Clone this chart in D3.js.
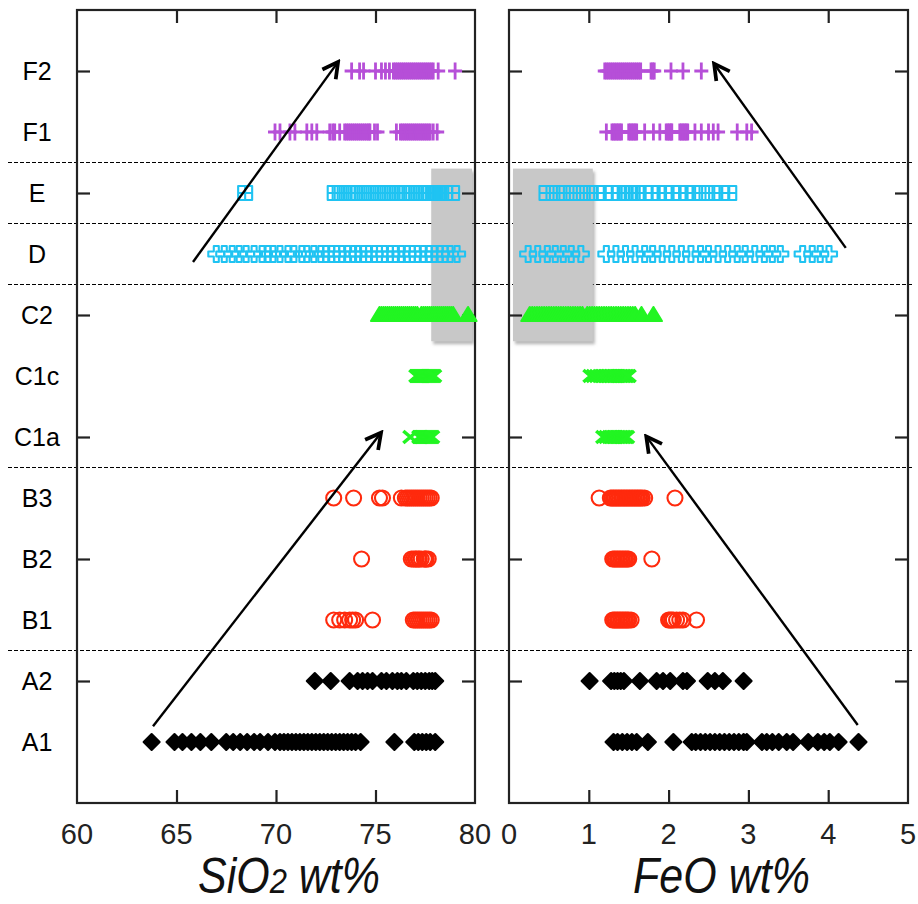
<!DOCTYPE html>
<html>
<head>
<meta charset="utf-8">
<script src="https://cdn.jsdelivr.net/npm/d3@7"></script>
<style>
  body { margin: 0; background: #fff; }
  text { font-family: "Liberation Sans", Arial, sans-serif; }
</style>
</head>
<body>
<div id="chart"></div>
<script>
// row categories, bottom to top
var rows = ["A1", "A2", "B1", "B2", "B3", "C1a", "C1c", "C2", "D", "E", "F1", "F2"];
var tickRows = ["A2", "B2", "C1a", "C2", "E", "F2"];
var groupBreaks = [1.5, 4.5, 7.5, 8.5, 9.5];   // dashed lines between groups (row index units)
var sio2Ticks = [60, 65, 70, 75, 80];
var feoTicks = [0, 1, 2, 3, 4, 5];

// SiO2 wt% values per row
var sio2_F2 = [73.8, 74.2, 74.4, 75.0, 75.3, 75.5, 75.7, 75.9, 76.0, 76.1, 76.2, 76.3, 76.4, 76.5, 76.6, 76.7, 76.8, 76.9, 77.0, 77.1, 77.2, 77.3, 77.4, 77.5, 77.6, 77.7, 77.8, 77.9, 78.15, 79.0];
var sio2_F1 = [69.95, 70.2, 70.7, 70.95, 71.55, 71.8, 72.05, 72.7, 72.85, 72.95, 73.2, 73.45, 73.55, 73.65, 73.75, 73.85, 73.95, 74.05, 74.15, 74.25, 74.35, 74.45, 74.55, 74.65, 74.72, 74.95, 75.1, 76.05, 76.25, 76.35, 76.45, 76.55, 76.65, 76.75, 76.85, 76.95, 77.05, 77.15, 77.25, 77.35, 77.45, 77.55, 77.65, 77.75, 77.9, 78.1];
var sio2_E = [68.45, 72.95, 73.2, 73.45, 73.75, 74.0, 74.3, 74.55, 74.8, 75.1, 75.35, 75.6, 75.85, 76.1, 76.35, 76.55, 76.8, 77.05, 77.3, 77.55, 77.75, 77.9, 78.0, 78.1, 78.2, 78.3, 78.5, 78.85];
var sio2_D = [67.0, 67.4, 67.8, 68.15, 68.5, 68.9, 69.3, 69.6, 69.85, 70.2, 70.6, 70.9, 71.3, 71.55, 71.9, 72.25, 72.5, 72.8, 73.05, 73.3, 73.6, 73.9, 74.1, 74.4, 74.65, 74.95, 75.2, 75.45, 75.75, 76.0, 76.3, 76.6, 76.85, 77.1, 77.4, 77.7, 77.95, 78.25, 78.5, 78.75, 79.1];
var sio2_C2 = [75.2, 75.3, 75.4, 75.5, 75.6, 75.7, 75.8, 75.9, 76.0, 76.1, 76.2, 76.3, 76.4, 76.5, 76.6, 76.7, 76.8, 76.9, 77.0, 77.1, 77.3, 77.4, 77.5, 77.6, 77.7, 77.8, 77.9, 78.0, 78.1, 78.2, 78.3, 78.4, 78.5, 78.6, 78.7, 78.8, 78.9, 79.65];
var sio2_C1c = [77.05, 77.1, 77.15, 77.2, 77.25, 77.3, 77.35, 77.4, 77.45, 77.5, 77.55, 77.6, 77.65, 77.7, 77.75, 77.8, 77.85, 77.9, 77.95];
var sio2_C1a = [76.75, 77.2, 77.25, 77.3, 77.35, 77.4, 77.45, 77.5, 77.55, 77.6, 77.65, 77.7, 77.75, 77.8, 77.85];
var sio2_B3 = [72.9, 73.9, 75.2, 75.35, 76.3, 76.5, 76.6, 76.7, 76.8, 76.9, 77.0, 77.1, 77.2, 77.3, 77.4, 77.5, 77.6, 77.7, 77.8];
var sio2_B2 = [74.3, 76.8, 76.9, 77.0, 77.05, 77.15, 77.2, 77.3, 77.45, 77.5, 77.55, 77.65];
var sio2_B1 = [72.9, 73.2, 73.45, 73.7, 73.85, 74.0, 74.85, 76.9, 77.0, 77.1, 77.2, 77.3, 77.4, 77.5, 77.6, 77.7, 77.8];
var sio2_A2 = [71.95, 72.75, 73.7, 74.1, 74.35, 74.6, 74.85, 75.3, 75.55, 75.85, 76.1, 76.3, 76.55, 76.9, 77.1, 77.3, 77.5, 77.7, 77.85, 78.0];
var sio2_A1 = [63.75, 64.9, 65.3, 65.75, 66.2, 66.75, 67.5, 67.85, 68.2, 68.55, 68.9, 69.2, 69.6, 69.95, 70.2, 70.4, 70.6, 70.8, 71.0, 71.2, 71.4, 71.6, 71.8, 72.0, 72.2, 72.4, 72.6, 72.8, 73.0, 73.2, 73.4, 73.6, 73.8, 74.0, 74.25, 75.95, 76.95, 77.15, 77.35, 77.55, 77.75, 78.0];

// FeO wt% values per row
var feo_F2 = [1.2, 1.225, 1.25, 1.275, 1.3, 1.325, 1.35, 1.375, 1.4, 1.425, 1.45, 1.475, 1.5, 1.525, 1.55, 1.575, 1.6, 1.625, 1.65, 1.78, 1.8, 1.82, 2.03, 2.18, 2.41];
var feo_F1 = [1.22, 1.29, 1.31, 1.33, 1.35, 1.37, 1.39, 1.41, 1.5, 1.52, 1.54, 1.56, 1.58, 1.6, 1.7, 1.81, 1.89, 1.97, 1.99, 2.01, 2.03, 2.04, 2.14, 2.16, 2.18, 2.2, 2.22, 2.24, 2.33, 2.41, 2.5, 2.56, 2.62, 2.86, 2.98, 3.04];
var feo_E = [0.47, 0.6, 0.72, 0.85, 0.98, 1.1, 1.2, 1.3, 1.38, 1.45, 1.5, 1.55, 1.6, 1.7, 1.8, 1.88, 1.95, 2.05, 2.15, 2.22, 2.3, 2.42, 2.55, 2.66, 2.76];
var feo_D = [0.24, 0.36, 0.48, 0.58, 0.68, 0.78, 0.9, 1.22, 1.34, 1.46, 1.58, 1.7, 1.8, 1.92, 2.04, 2.16, 2.28, 2.4, 2.5, 2.62, 2.74, 2.86, 2.96, 3.08, 3.2, 3.3, 3.4, 3.68, 3.8, 3.9, 4.01];
var feo_C2 = [0.26, 0.29, 0.32, 0.35, 0.38, 0.41, 0.44, 0.47, 0.5, 0.53, 0.56, 0.59, 0.62, 0.65, 0.68, 0.71, 0.74, 0.77, 0.8, 0.83, 0.86, 0.89, 0.92, 0.98, 1.01, 1.04, 1.07, 1.1, 1.13, 1.16, 1.19, 1.22, 1.25, 1.28, 1.31, 1.34, 1.37, 1.4, 1.43, 1.46, 1.49, 1.52, 1.55, 1.58, 1.66, 1.81];
var feo_C1c = [1.02, 1.06, 1.1, 1.14, 1.18, 1.22, 1.24, 1.26, 1.28, 1.3, 1.32, 1.34, 1.36, 1.38, 1.4, 1.42, 1.44, 1.46, 1.48, 1.5];
var feo_C1a = [1.18, 1.22, 1.26, 1.28, 1.3, 1.32, 1.34, 1.36, 1.38, 1.4, 1.42, 1.44, 1.46, 1.48];
var feo_B3 = [1.13, 1.27, 1.29, 1.31, 1.33, 1.35, 1.37, 1.39, 1.41, 1.43, 1.45, 1.47, 1.49, 1.51, 1.53, 1.55, 1.57, 1.59, 1.61, 1.63, 1.65, 1.67, 1.7, 2.08];
var feo_B2 = [1.3, 1.32, 1.34, 1.36, 1.38, 1.4, 1.42, 1.44, 1.46, 1.48, 1.5, 1.79];
var feo_B1 = [1.3, 1.32, 1.34, 1.36, 1.38, 1.4, 1.42, 1.44, 1.46, 1.48, 1.5, 1.53, 2.0, 2.02, 2.04, 2.06, 2.1, 2.14, 2.18, 2.35];
var feo_A2 = [1.01, 1.28, 1.32, 1.36, 1.4, 1.44, 1.64, 1.85, 1.93, 2.02, 2.18, 2.23, 2.49, 2.58, 2.68, 2.94];
var feo_A1 = [1.31, 1.36, 1.42, 1.48, 1.54, 1.6, 1.74, 2.06, 2.29, 2.34, 2.4, 2.46, 2.52, 2.58, 2.64, 2.7, 2.76, 2.82, 2.88, 2.94, 2.98, 3.17, 3.23, 3.3, 3.38, 3.48, 3.56, 3.75, 3.87, 3.95, 4.02, 4.13, 4.38];

// grey highlight boxes [x0, x1, row0, row1]
var sio2Box = [77.8, 79.85, 6.57, 9.4];
var feoBox = [0.05, 1.05, 6.57, 9.4];

// trend arrows [xFrom, rowFrom, xTo, rowTo]
var sio2Arrows = [[63.82, 0.26, 75.28, 5.07], [65.83, 7.87, 73.12, 11.15]];
var feoArrows = [[4.37, 0.28, 1.72, 5.01], [4.22, 8.1, 2.57, 11.12]];

var sio2Data = {F2: sio2_F2, F1: sio2_F1, E: sio2_E, D: sio2_D, C2: sio2_C2, C1c: sio2_C1c, C1a: sio2_C1a, B3: sio2_B3, B2: sio2_B2, B1: sio2_B1, A2: sio2_A2, A1: sio2_A1};
var feoData = {F2: feo_F2, F1: feo_F1, E: feo_E, D: feo_D, C2: feo_C2, C1c: feo_C1c, C1a: feo_C1a, B3: feo_B3, B2: feo_B2, B1: feo_B1, A2: feo_A2, A1: feo_A1};

// marker style for each row
var rowStyle = {
  F2: {shape: "plus", color: "#b64fd8"},
  F1: {shape: "plus", color: "#b64fd8"},
  E: {shape: "box", color: "#1fc3f2"},
  D: {shape: "cross", color: "#1fc3f2"},
  C2: {shape: "triangle", color: "#22f522"},
  C1c: {shape: "x", color: "#22f522"},
  C1a: {shape: "x", color: "#22f522"},
  B3: {shape: "circle", color: "#ff2a0d"},
  B2: {shape: "circle", color: "#ff2a0d"},
  B1: {shape: "circle", color: "#ff2a0d"},
  A2: {shape: "diamond", color: "#000"},
  A1: {shape: "diamond", color: "#000"}
};

var width = 918, height = 904;

var svg = d3.select("#chart")
  .append("svg")
    .attr("width", width)
    .attr("height", height);

var defs = svg.append("defs");
defs.append("marker")
    .attr("id", "arrowhead")
    .attr("viewBox", "0 0 20 20")
    .attr("refX", 17)
    .attr("refY", 10)
    .attr("markerWidth", 22)
    .attr("markerHeight", 22)
    .attr("markerUnits", "userSpaceOnUse")
    .attr("orient", "auto")
  .append("path")
    .attr("d", "M3,2.5 L17,10 L3,17.5")
    .attr("fill", "none")
    .attr("stroke", "#000")
    .attr("stroke-width", 3.4);
var shadow = defs.append("filter").attr("id", "shadow")
    .attr("x", "-10%").attr("y", "-10%").attr("width", "130%").attr("height", "130%");
shadow.append("feDropShadow")
    .attr("dx", 2).attr("dy", 3).attr("stdDeviation", 1.5)
    .attr("flood-color", "#888").attr("flood-opacity", 0.6);

var y = d3.scaleLinear().domain([-1, 12]).range([803, 10]);

// dashed group separators across the whole figure
svg.selectAll(".sep")
  .data(groupBreaks)
  .enter()
  .append("line")
    .attr("x1", 8).attr("x2", 912)
    .attr("y1", function(d) { return y(d); })
    .attr("y2", function(d) { return y(d); })
    .attr("stroke", "#000")
    .attr("stroke-width", 1)
    .attr("stroke-dasharray", "4,2");

// row labels
svg.selectAll(".rowlab")
  .data(rows)
  .enter()
  .append("text")
    .attr("x", 37)
    .attr("y", function(d, i) { return y(i); })
    .attr("dy", "0.36em")
    .attr("text-anchor", "middle")
    .style("font-size", "25px")
    .style("fill", "#000")
    .text(function(d) { return d; });

function markerPath(shape) {
  switch (shape) {
    case "plus": return "M-7,0H7M0,-8.5V8.5";
    case "box": return "M-7,-7H7V7H-7ZM0,-7V7M-7,0H7";
    case "cross": return "M-2.5,-8H2.5V-2.5H8V2.5H2.5V8H-2.5V2.5H-8V-2.5H-2.5Z";
    case "triangle": return "M0,-8L8.5,6H-8.5Z";
    case "x": return "M-7,-6L7,6M-7,6L7,-6";
    case "circle": return "M7.5,0A7.5,7.5 0 1,1 -7.5,0A7.5,7.5 0 1,1 7.5,0Z";
    case "diamond": return "M0,-8L8,0L0,8L-8,0Z";
  }
}

function drawPanel(x0, x1, domain, ticks, data, box, arrows, title, sub, rest) {
  var x = d3.scaleLinear().domain(domain).range([x0, x1]);
  var g = svg.append("g");

  // grey highlight
  g.append("rect")
      .attr("x", x(box[0]))
      .attr("y", y(box[3]))
      .attr("width", x(box[1]) - x(box[0]))
      .attr("height", y(box[2]) - y(box[3]))
      .attr("fill", "#c8c8c8")
      .attr("filter", "url(#shadow)");

  // frame
  g.append("rect")
      .attr("x", x0).attr("y", y(12))
      .attr("width", x1 - x0).attr("height", y(-1) - y(12))
      .attr("fill", "none")
      .attr("stroke", "#222")
      .attr("stroke-width", 2.2);

  var inner = ticks.slice(1, ticks.length - 1);
  g.append("g")
      .attr("transform", "translate(0," + y(-1) + ")")
      .call(d3.axisBottom(x).tickValues(inner).tickSizeInner(-13).tickSizeOuter(0).tickFormat(""));
  g.append("g")
      .attr("transform", "translate(0," + y(12) + ")")
      .call(d3.axisTop(x).tickValues(inner).tickSizeInner(-13).tickSizeOuter(0).tickFormat(""));
  var tickIdx = tickRows.map(function(r) { return rows.indexOf(r); });
  g.append("g")
      .attr("transform", "translate(" + x0 + ",0)")
      .call(d3.axisLeft(y).tickValues(tickIdx).tickSizeInner(-13).tickSizeOuter(0).tickFormat(""));
  g.append("g")
      .attr("transform", "translate(" + x1 + ",0)")
      .call(d3.axisRight(y).tickValues(tickIdx).tickSizeInner(-13).tickSizeOuter(0).tickFormat(""));
  g.selectAll(".domain").remove();
  g.selectAll(".tick line").attr("stroke", "#222").attr("stroke-width", 2.2);

  // tick labels
  g.selectAll(".ticklab")
    .data(ticks)
    .enter()
    .append("text")
      .attr("x", function(d) { return x(d); })
      .attr("y", 844)
      .attr("text-anchor", "middle")
      .style("font-size", "29px")
      .style("fill", "#222")
      .text(function(d) { return d; });

  // markers
  rows.forEach(function(r, i) {
    var st = rowStyle[r];
    var filled = (st.shape === "diamond" || st.shape === "triangle");
    g.selectAll(".m" + r)
      .data(data[r])
      .enter()
      .append("path")
        .attr("transform", function(d) { return "translate(" + x(d) + "," + y(i) + ")"; })
        .attr("d", markerPath(st.shape))
        .attr("fill", filled ? st.color : "none")
        .attr("stroke", st.color)
        .attr("stroke-width", st.shape === "x" ? 3.6 : (st.shape === "plus" ? 2.8 : 2.1))
        .attr("stroke-linejoin", "round");
  });

  // arrows
  g.selectAll(".arrow")
    .data(arrows)
    .enter()
    .append("line")
      .attr("x1", function(d) { return x(d[0]); })
      .attr("y1", function(d) { return y(d[1]); })
      .attr("x2", function(d) { return x(d[2]); })
      .attr("y2", function(d) { return y(d[3]); })
      .attr("stroke", "#000")
      .attr("stroke-width", 2.4)
      .attr("marker-end", "url(#arrowhead)");

  // axis title (condensed italic)
  var cx = (x0 + x1) / 2 + 13;
  var t = g.append("text")
      .attr("transform", "translate(" + cx + ",893) scale(0.86,1)")
      .attr("text-anchor", "middle")
      .style("font-size", "50px")
      .style("font-style", "italic")
      .style("fill", "#111")
      .text(title);
  if (sub) {
    t.append("tspan").style("font-size", "36px").text(sub);
  }
  t.append("tspan").text(rest);
}

drawPanel(77, 475, [60, 80], sio2Ticks, sio2Data, sio2Box, sio2Arrows, "SiO", "2", " wt%");
drawPanel(509, 908, [0, 5], feoTicks, feoData, feoBox, feoArrows, "FeO wt%", null, "");
</script>
</body>
</html>
